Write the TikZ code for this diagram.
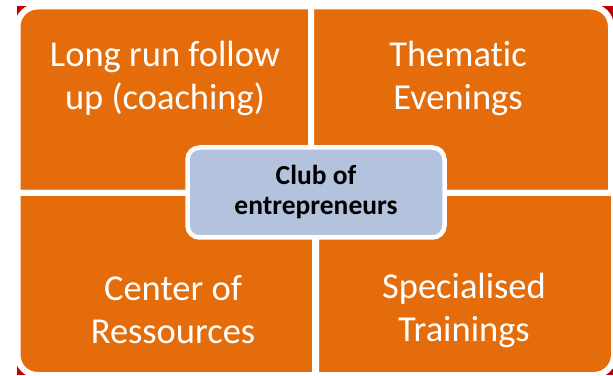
\documentclass[tikz,border=0pt]{standalone}
\usepackage{fontspec}
\setmainfont{Carlito}[Ligatures=NoCommon]
\definecolor{quadorange}{HTML}{E46C0A}
\definecolor{bgred}{HTML}{C00000}
\definecolor{hubblue}{HTML}{B3C3DD}
\begin{document}
\begin{tikzpicture}[x=1pt,y=1pt,
  quad/.style={fill=quadorange,draw=white,line width=6pt},
  quadtext/.style={text=white,align=center,font=\fontsize{36.5}{43}\selectfont},
  hub/.style={fill=hubblue,draw=white,line width=4.5pt,rounded corners=12pt},
  hubtext/.style={text=black,align=center,font=\bfseries\fontsize{27.5}{30}\selectfont}]
\useasboundingbox (0,0) rectangle (613,375);
% background square
\fill[bgred] (17,0) rectangle (616,369);
% quadrants
\path[quad] (311,182) -- (17.5,182) -- (17.5,348.5) arc[start angle=180,end angle=90,radius=20] -- (311,368.5) -- cycle;
\path[quad] (311,182) -- (611,182) -- (611,348.5) arc[start angle=0,end angle=90,radius=20] -- (311,368.5) -- cycle;
\path[quad] (315,182) -- (17.5,182) -- (17.5,20) arc[start angle=180,end angle=270,radius=20] -- (315,0) -- cycle;
\path[quad] (316,182) -- (614,182) -- (614,20) arc[start angle=0,end angle=-90,radius=20] -- (316,0) -- cycle;
% hub
\path[hub] (187.5,137.5) rectangle (444.5,227.5);
\node[hubtext] (club) at (316,183) {Club of\\entrepreneurs};
% labels
\node[quadtext] (coach) at (165,297) {Long run follow\\up (coaching)};
\node[quadtext] (evening) at (458,297) {Thematic\\Evenings};
\node[quadtext] (center) at (173,65) {Center of\\Ressources};
\node[quadtext] (train) at (464,65) {Specialised\\Trainings};
\end{tikzpicture}
\end{document}
